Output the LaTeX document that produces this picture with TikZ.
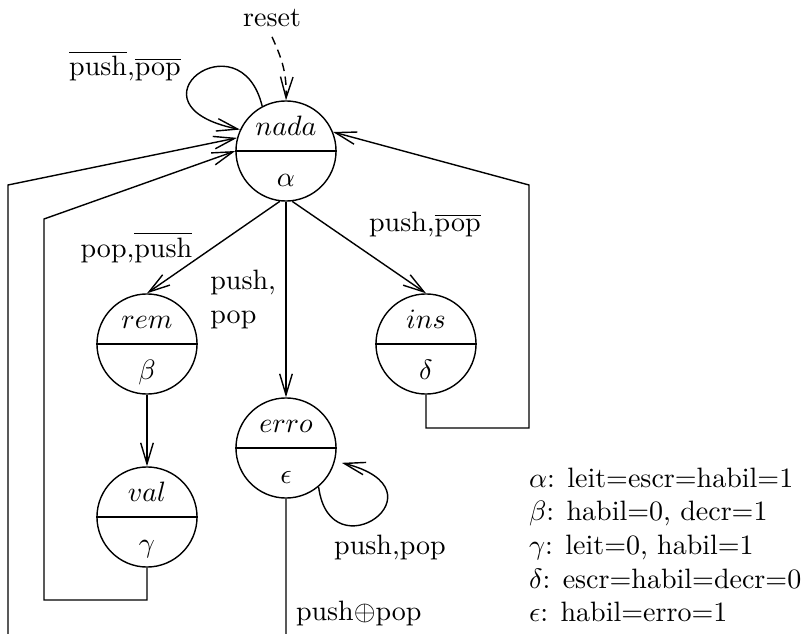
\documentclass[tikz,border=0pt]{standalone}
\usetikzlibrary{arrows.meta}
\tikzset{%
  state/.style={circle, draw, minimum size=1.255cm, inner sep=0pt},
  uptext/.style={anchor=base, yshift=5.5pt},
  lowtext/.style={anchor=base, yshift=-12.5pt},
  trans/.style={-{Straight Barb[length=7.5pt,width=4.5pt]}},
}

\begin{document}
\begin{tikzpicture}[x=0.01255cm, y=-0.01255cm, line width=0.5pt]

    % frame of the picture
    \useasboundingbox (0,0) rectangle (809,634);
    \clip (0,0) rectangle (809,634);

    % the states
    \node[state] (nada) at (286,151) {};
    \draw (nada.west) -- (nada.east);
    \node[uptext] (nadaup) at (nada) {$nada$};
    \node[lowtext] (nadalow) at (nada) {$\alpha$};

    \node[state] (rem) at (147,344) {};
    \draw (rem.west) -- (rem.east);
    \node[uptext] (remup) at (rem) {$rem$};
    \node[lowtext] (remlow) at (rem) {$\beta$};

    \node[state] (ins) at (426,344) {};
    \draw (ins.west) -- (ins.east);
    \node[uptext] (insup) at (ins) {$ins$};
    \node[lowtext] (inslow) at (ins) {$\delta$};

    \node[state] (erro) at (286,448) {};
    \draw (erro.west) -- (erro.east);
    \node[uptext] (erroup) at (erro) {$erro$};
    \node[lowtext] (errolow) at (erro) {$\epsilon$};

    \node[state] (val) at (147,517) {};
    \draw (val.west) -- (val.east);
    \node[uptext] (valup) at (val) {$val$};
    \node[lowtext] (vallow) at (val) {$\gamma$};

    % reset
    \node (reset) at (272,18) {reset};
    \draw[trans, densely dashed] (reset.south) .. controls (280,55) and (287,70) .. (nada.north);

    % loop on nada
    \draw[trans] (nada.118) .. controls (240,15) and (120,105) .. (nada.155);
    \node (lnada) at (125,66) {$\overline{\mbox{push}}$,$\overline{\mbox{pop}}$};

    % leaving nada
    \draw[trans] (nada.-97) -- node[midway, left=4pt] (lrem) {pop,$\overline{\mbox{push}}$} (rem.north);
    \draw[trans] (nada.south) -- node[midway, left, align=left] (lerro) {push,\\pop} (erro.north);
    \draw[trans] (nada.-83) -- node[midway, above right] (lins) {push,$\overline{\mbox{pop}}$} (ins.north);
    \draw[trans] (rem.south) -- (val.north);

    % going back to nada
    \coordinate (v1) at (44,600);
    \coordinate (v2) at (44,219);
    \draw[trans] (val.south) |- (v1) -- (v2) -- (nada.180);

    \coordinate (e1) at (8,660);
    \coordinate (e2) at (8,185);
    \draw[trans] (erro.south) |- (e1) -- (e2) -- (nada.165);
    \node[right] (lout) at (286,613) {push$\oplus$pop};

    \coordinate (i1) at (529,428);
    \coordinate (i2) at (529,185);
    \draw[trans] (ins.south) |- (i1) -- (i2) -- (nada.22);

    % loop on erro
    \draw[trans, shorten >=2.5pt] (erro.-50) .. controls (330,575) and (450,490) .. (erro.-15);
    \node (lloop) at (390,547) {push,pop};

    % what each state outputs
    \node[anchor=west, align=left] (legend) at (519,545) {%
      $\alpha$: leit=escr=habil=1\\
      $\beta$: habil=0, decr=1\\
      $\gamma$: leit=0, habil=1\\
      $\delta$: escr=habil=decr=0\\
      $\epsilon$: habil=erro=1};

\end{tikzpicture}
\end{document}
